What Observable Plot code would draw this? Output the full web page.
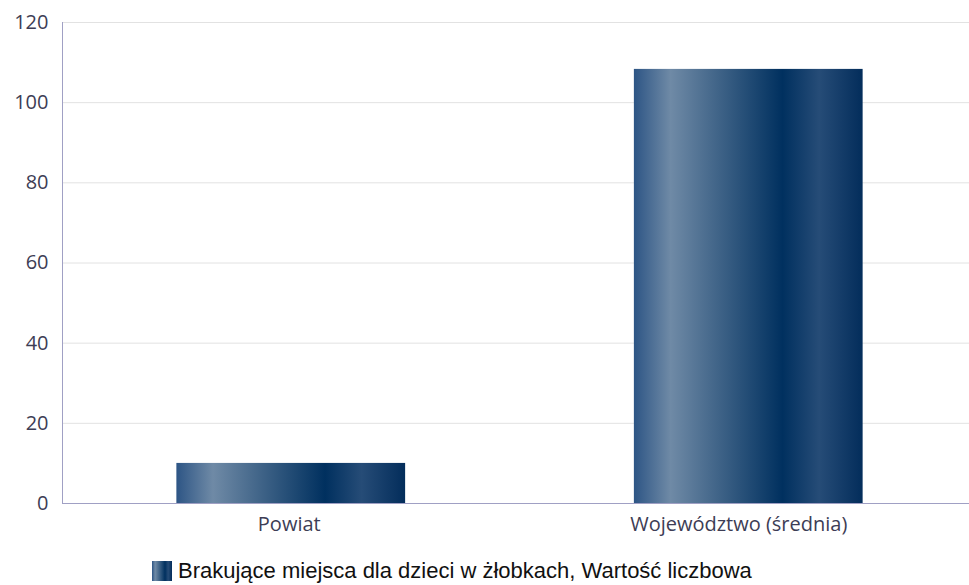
<!DOCTYPE html>
<html><head><meta charset="utf-8">
<script src="https://cdn.jsdelivr.net/npm/d3@7"></script>
<script src="https://cdn.jsdelivr.net/npm/@observablehq/plot@0.6"></script>
<style>
body{margin:0;background:#fff;}
#legend{display:flex;align-items:center;margin-left:152px;margin-top:13px;font-family:"Liberation Sans",Arial,sans-serif;font-size:22px;color:#111;}
#legend .sw{width:20px;height:20px;margin-right:6px;}
</style>
</head><body>
<div id="chart"></div>
<div id="legend"><svg class="sw" width="20" height="20"><defs><linearGradient id="lg" x1="0" x2="1" y1="0" y2="0"><stop offset="0" stop-color="#2d5585"/><stop offset="0.16" stop-color="#6f8aa6"/><stop offset="0.65" stop-color="#00305f"/><stop offset="0.81" stop-color="#264c77"/><stop offset="1" stop-color="#032d5b"/></linearGradient></defs><rect width="20" height="20" fill="url(#lg)"/></svg><span>Brakujące miejsca dla dzieci w żłobkach, Wartość liczbowa</span></div>
<script>
const categories = ["Powiat", "Województwo (średnia)"];
const values = [10, 108.3];
const yTicks = [0, 20, 40, 60, 80, 100, 120];

const data = categories.map((c, i) => ({category: c, value: values[i]}));

const plot = Plot.plot({
  width: 969,
  height: 545,
  marginLeft: 62,
  marginRight: 0,
  marginTop: 22,
  marginBottom: 42,
  style: {fontFamily: "'Open Sans', sans-serif", fontSize: "20px", color: "#3d3d55", background: "#fff"},
  x: {domain: categories, range: [62, 977], paddingInner: 0.5, paddingOuter: 0.25, round: false, label: null, axis: null},
  y: {domain: [0, 120], ticks: yTicks, label: null},
  marks: [
    Plot.gridY(yTicks, {stroke: "#e2e2e2", strokeOpacity: 1}),
    Plot.barY(data, {x: "category", y: "value", fill: "url(#barGrad)"}),
    Plot.axisY(yTicks, {tickSize: 0, tickPadding: 14, fill: "#3d3d55", label: null}),
    Plot.text([categories[0]], {x: d => d, frameAnchor: "bottom", dy: 21, dx: -2, fill: "#3d3d55", lineAnchor: "middle"}),
    Plot.text([categories[1]], {x: d => d, frameAnchor: "bottom", dy: 21, dx: -10, fill: "#3d3d55", lineAnchor: "middle"}),
    Plot.ruleY([0], {stroke: "#a0a0c4"})
  ]
});

const svg = d3.select(plot);
svg.insert("defs", ":first-child").html(
  '<linearGradient id="barGrad" x1="0" x2="1" y1="0" y2="0">' +
  '<stop offset="0" stop-color="#2d5585"/>' +
  '<stop offset="0.16" stop-color="#6f8aa6"/>' +
  '<stop offset="0.65" stop-color="#00305f"/>' +
  '<stop offset="0.81" stop-color="#264c77"/>' +
  '<stop offset="1" stop-color="#032d5b"/>' +
  '</linearGradient>');
const ys = plot.scale("y");
const yTop = ys.apply(yTicks[yTicks.length - 1]);
const yBot = ys.apply(yTicks[0]);
svg.append("line")
  .attr("x1", 62.5).attr("x2", 62.5)
  .attr("y1", yTop).attr("y2", yBot)
  .attr("stroke", "#a0a0c4");
svg.selectAll("g, text").attr("font-size", null);
svg.selectAll("text").style("font-size", "20px");
document.getElementById("chart").appendChild(plot);
</script>
</body></html>
